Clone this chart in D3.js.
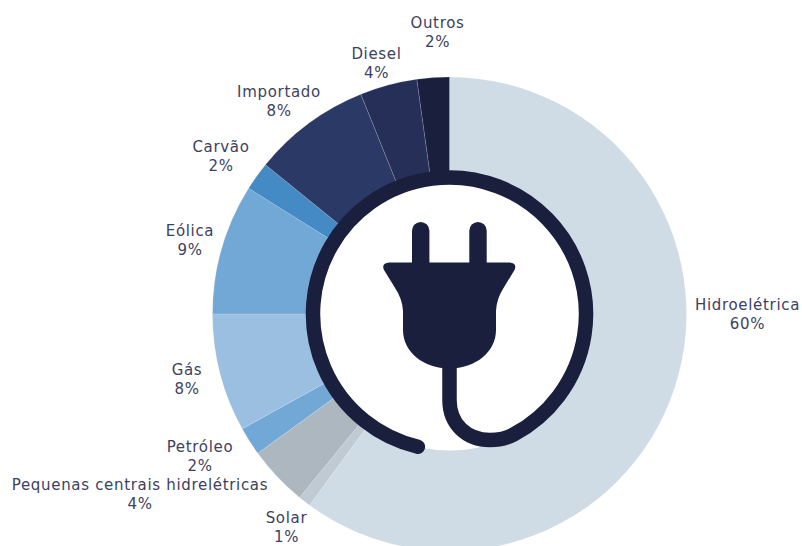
<!DOCTYPE html>
<html><head><meta charset="utf-8">
<script src="https://cdn.jsdelivr.net/npm/d3@7"></script>
<style>html,body{margin:0;padding:0;background:#fff;overflow:hidden}svg{display:block}
text{font-family:"DejaVu Sans","Noto Sans",sans-serif;font-size:15px;fill:#3d4160;letter-spacing:.68px}</style>
</head><body><svg id="c" width="802" height="546"></svg>
<script>
const categories = ["Hidroelétrica","Solar","Pequenas centrais hidrelétricas","Petróleo","Gás","Eólica","Carvão","Importado","Diesel","Outros"];
const values = [60.05,0.85,4.1,1.95,8.05,8.9,1.95,8.05,3.9,2.2];
const valueLabels = ["60%","1%","4%","2%","8%","9%","2%","8%","4%","2%"];
const colors = ["#cfdce6","#bfcad2","#adb7bf","#72a8d6","#9bbfe0","#72a8d6","#448bc6","#2b3966","#252f57","#1a1f3d"];
const labelCenters = [[747.5,304.5],[286.5,517.5],[140,484.5],[200,446.5],[187,369.5],[190,230.5],[221,146.5],[279,91.5],[376.5,53.5],[437.5,22.5]];

const svg = d3.select("#c");
const cx = 449.5, cy = 314, R = 237, ringR = 136.5, ringW = 14.5, ink = "#1a1f3d";
const g = svg.append("g").attr("transform",`translate(${cx},${cy})`);
const pie = d3.pie().value(d=>d).sort(null);
const arc = d3.arc().innerRadius(0).outerRadius(R);
g.selectAll("path.slice").data(pie(values)).join("path").attr("class","slice")
  .attr("d",arc).attr("fill",(d,i)=>colors[i])
  .attr("stroke","#ffffff").attr("stroke-opacity",.25).attr("stroke-width",.6);

// white hub, cable ring and plug icon
g.append("circle").attr("r",ringR).attr("fill","#fff");
const pt = a => [ringR*Math.sin(a*Math.PI/180), -ringR*Math.cos(a*Math.PI/180)];
const [sx,sy] = pt(193.4);
const cable = d3.path();
cable.moveTo(sx,sy);
cable.arc(0,0,ringR,(193.4-90)*Math.PI/180,(152+360-90)*Math.PI/180,false);
cable.bezierCurveTo(56,124.8,48,126,40.5,126);
cable.bezierCurveTo(17,126,0,110,0,86);
cable.lineTo(0,50);
g.append("path").attr("d",cable.toString()).attr("fill","none").attr("stroke",ink)
  .attr("stroke-width",ringW).attr("stroke-linecap","round").attr("stroke-linejoin","round");

const prongs=[-28.8,28.5];
g.selectAll("rect.prong").data(prongs).join("rect").attr("class","prong")
  .attr("x",d=>d-8.7).attr("y",-92).attr("width",17.4).attr("height",50).attr("rx",8.7).attr("fill",ink);
g.append("path").attr("fill",ink).attr("d",
 "M-60,-51.5 L60,-51.5 Q68,-51 65,-44 L54,-26 Q47,-15 46.5,-3 L46.5,16 "+
 "C46.5,38 26,54.5 0,54.5 C-26,54.5 -46.5,38 -46.5,16 L-46.5,-3 Q-47,-15 -55,-27 L-65.5,-44 Q-68.5,-51 -60,-51.5 Z");

const lab = svg.append("g").attr("text-anchor","middle");
categories.forEach((c,i)=>{
  const [x,y]=labelCenters[i];
  lab.append("text").attr("x",x).attr("y",y+5.5).text(c);
  lab.append("text").attr("x",x).attr("y",y+24.5).text(valueLabels[i]);
});
</script></body></html>
